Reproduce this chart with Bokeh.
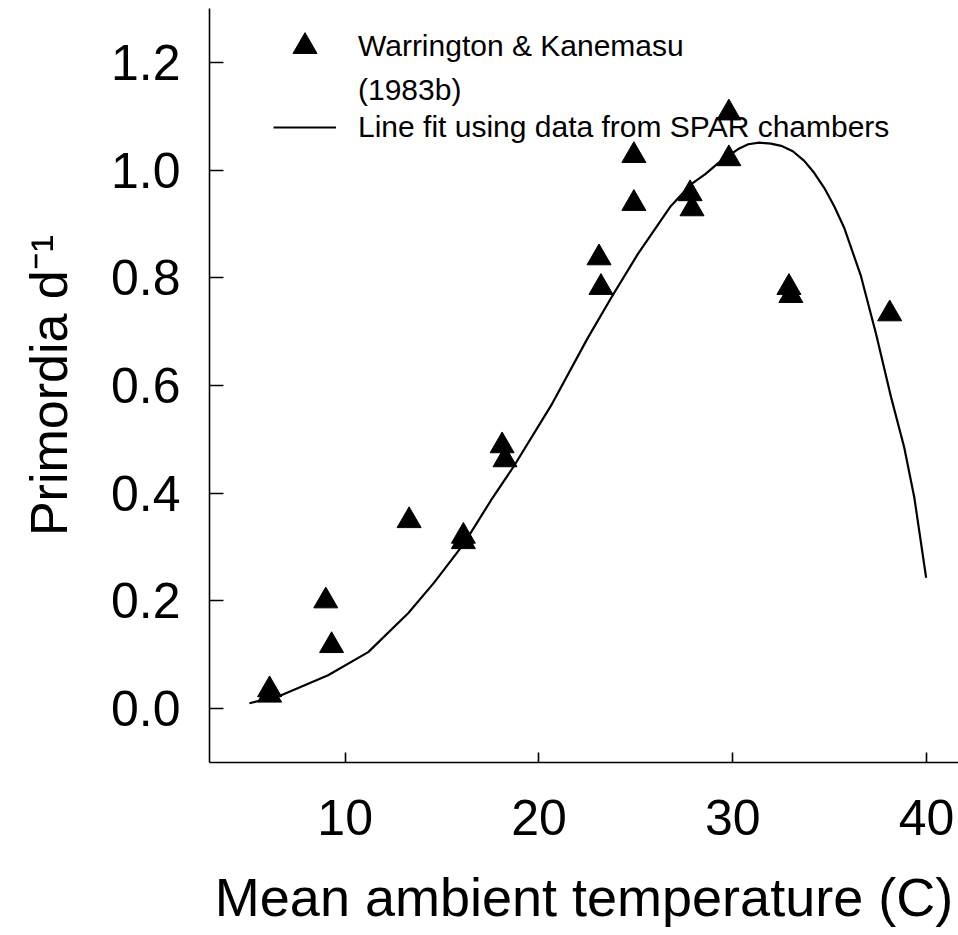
from bokeh.plotting import figure
from bokeh.models import Range1d, FixedTicker, NumeralTickFormatter, Legend, LegendItem
from bokeh.embed import file_html
from bokeh.resources import INLINE

# Observed data: Warrington & Kanemasu (1983b)
temp = [6.1, 6.1, 9.0, 9.3, 13.3, 16.1, 16.1, 18.1, 18.25, 23.1, 23.2,
        24.9, 24.9, 27.8, 27.9, 29.8, 29.8, 32.9, 33.0, 38.1]
rate = [0.035, 0.025, 0.200, 0.117, 0.349, 0.320, 0.310, 0.488, 0.462, 0.837, 0.782,
        1.027, 0.938, 0.956, 0.928, 1.106, 1.021, 0.782, 0.767, 0.733]

# Fitted curve
fit_t = [5.06, 6.7, 9.12, 11.19, 13.25, 14.59, 16.14, 17.53, 18.72, 20.63, 22.5,
         23.73, 25.1, 26.8, 27.86, 28.6, 29.25, 30.28, 30.8, 31.36, 31.97, 32.5, 33.1,
         33.69, 34.2, 34.72, 35.25, 35.75, 36.6, 37.4, 38.18, 38.85, 39.37, 39.98]
fit_r = [0.010, 0.025, 0.062, 0.105, 0.177, 0.234, 0.307, 0.387, 0.451, 0.563, 0.687,
         0.763, 0.844, 0.933, 0.974, 0.993, 1.013, 1.039, 1.048, 1.051, 1.049, 1.045, 1.035,
         1.017, 0.995, 0.967, 0.932, 0.893, 0.805, 0.695, 0.577, 0.485, 0.392, 0.243]

x_ticks = [10, 20, 30, 40]
y_ticks = [0.0, 0.2, 0.4, 0.6, 0.8, 1.0, 1.2]

FONT = "Liberation Sans"

p = figure(width=958, height=935, x_range=Range1d(3, 41.65), y_range=Range1d(-0.1, 1.3),
           output_backend="svg", toolbar_location=None,
           min_border_left=209, min_border_right=0, min_border_top=8, min_border_bottom=173)
p.outline_line_color = None
p.xgrid.visible = False
p.ygrid.visible = False
p.background_fill_color = "white"
p.border_fill_color = "white"

r_pts = p.scatter(temp, rate, marker="triangle", size=24, color="black")
r_fit = p.line(fit_t, fit_r, line_width=2.2, color="black", line_join="round")

for ax in (p.xaxis[0], p.yaxis[0]):
    ax.axis_line_width = 1.6
    ax.axis_line_color = "black"
    ax.major_tick_line_width = 1.6
    ax.major_tick_line_color = "black"
    ax.major_tick_out = 0
    ax.minor_tick_line_color = None
    ax.major_label_text_font = FONT
    ax.major_label_text_color = "black"
    ax.major_label_text_font_size = "50px"

p.xaxis[0].ticker = FixedTicker(ticks=x_ticks)
p.xaxis[0].major_tick_in = 10
p.xaxis[0].major_label_standoff = 37
p.xaxis[0].axis_label = "Mean ambient temperature (C)"
p.xaxis[0].axis_label_text_font = FONT
p.xaxis[0].axis_label_text_font_style = "normal"
p.xaxis[0].axis_label_text_font_size = "54px"
p.xaxis[0].axis_label_text_color = "black"
p.xaxis[0].axis_label_standoff = 29

p.yaxis[0].ticker = FixedTicker(ticks=y_ticks)
p.yaxis[0].formatter = NumeralTickFormatter(format="0.0")
p.yaxis[0].major_tick_in = 14
p.yaxis[0].major_label_standoff = 29
p.yaxis[0].axis_label = "Primordia d\u207b\u00b9"
p.yaxis[0].axis_label_text_font = FONT
p.yaxis[0].axis_label_text_font_style = "normal"
p.yaxis[0].axis_label_text_font_size = "52px"
p.yaxis[0].axis_label_text_color = "black"
p.yaxis[0].axis_label_standoff = 30

def style_legend(lg, gh):
    lg.margin = 0
    lg.padding = 0
    lg.glyph_width = 63
    lg.glyph_height = gh
    lg.label_standoff = 22
    lg.label_text_font = FONT
    lg.label_text_font_size = "30px"
    lg.label_text_color = "black"
    lg.background_fill_alpha = 0
    lg.border_line_alpha = 0

legend_a = Legend(items=[LegendItem(label="Warrington & Kanemasu", renderers=[r_pts])],
                  location=(64, 686))
style_legend(legend_a, 60)
legend_b = Legend(items=[LegendItem(label="(1983b)", renderers=[]),
                         LegendItem(label="Line fit using data from SPAR chambers", renderers=[r_fit])],
                  location=(64, 618))
style_legend(legend_b, 34)
legend_b.spacing = 3
p.add_layout(legend_a, "center")
p.add_layout(legend_b, "center")

open("out.html", "w").write(file_html(p, INLINE))
